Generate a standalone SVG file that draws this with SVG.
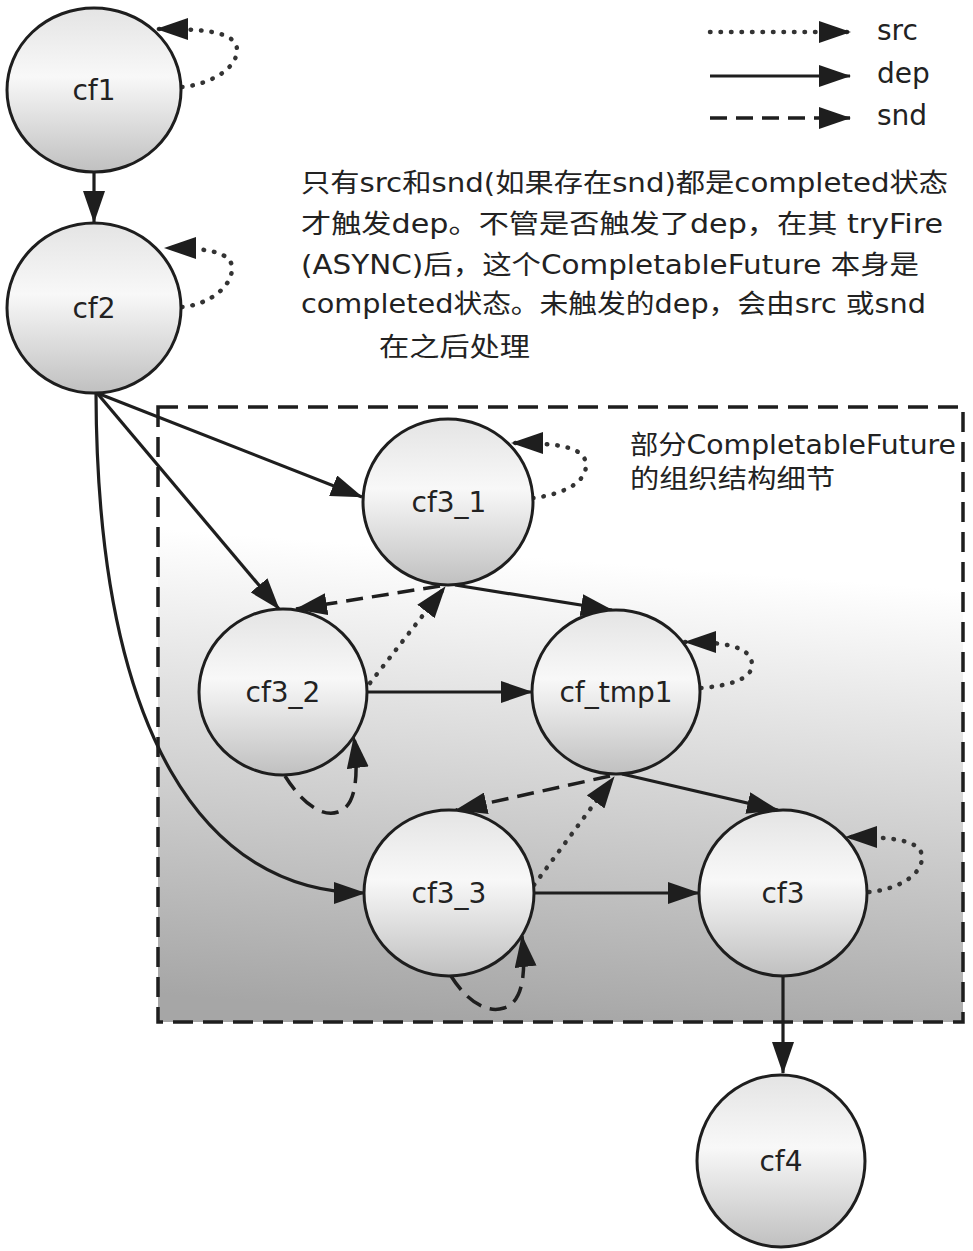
<svg xmlns="http://www.w3.org/2000/svg" width="973" height="1251" viewBox="0 0 973 1251">
  <defs>
    <linearGradient id="nodeFill" x1="0" y1="0" x2="0" y2="1">
      <stop offset="0" stop-color="#e4e4e4"/>
      <stop offset="0.42" stop-color="#f8f8f8"/>
      <stop offset="1" stop-color="#c0c0c0"/>
    </linearGradient>
    <linearGradient id="boxFill" x1="0.55" y1="0" x2="0.45" y2="1">
      <stop offset="0" stop-color="#ffffff"/>
      <stop offset="0.25" stop-color="#ffffff"/>
      <stop offset="1" stop-color="#a6a6a6"/>
    </linearGradient>
    <marker id="arrow" viewBox="0 0 32 22" markerWidth="32" markerHeight="22" refX="31" refY="11" orient="auto" markerUnits="userSpaceOnUse">
      <path d="M0,0 L32,11 L0,22 z" fill="#1e1e1e"/>
    </marker>
    <style>
      .node { fill: url(#nodeFill); stroke: #1e1e1e; stroke-width: 3; }
      .label { font-family: "DejaVu Sans", "Noto Sans CJK SC", sans-serif; font-size: 28px; fill: #222; text-anchor: middle; }
      .note { font-family: "DejaVu Sans", "Noto Sans CJK SC", sans-serif; font-size: 26px; fill: #222; }
      .dep { fill: none; stroke: #1e1e1e; stroke-width: 3.2; marker-end: url(#arrow); }
      .src { fill: none; stroke: #333; stroke-width: 4.5; stroke-dasharray: 0.5 10; stroke-linecap: round; marker-end: url(#arrow); }
      .snd { fill: none; stroke: #1e1e1e; stroke-width: 3.5; stroke-dasharray: 17 9; marker-end: url(#arrow); }
    </style>
  </defs>

  <rect width="973" height="1251" fill="#ffffff"/>

  <!-- detail region -->
  <g id="detail-box">
    <rect x="158" y="407" width="805" height="615" fill="url(#boxFill)" stroke="#1e1e1e" stroke-width="3.5" stroke-dasharray="20 10"/>
    <text class="note" x="630" y="454" textLength="326" lengthAdjust="spacingAndGlyphs">部分CompletableFuture</text>
    <text class="note" x="630" y="488" textLength="205" lengthAdjust="spacingAndGlyphs">的组织结构细节</text>
  </g>

  <!-- legend -->
  <g id="legend">
    <path class="src" d="M710,32 L850,32"/>
    <path class="dep" d="M710,76 L850,76"/>
    <path class="snd" d="M710,118 L850,118"/>
    <text class="label" x="877" y="40" style="text-anchor:start">src</text>
    <text class="label" x="877" y="83" style="text-anchor:start">dep</text>
    <text class="label" x="877" y="125" style="text-anchor:start">snd</text>
  </g>

  <!-- explanation -->
  <g id="explanation">
    <text class="note" x="301" y="192" textLength="647" lengthAdjust="spacingAndGlyphs">只有src和snd(如果存在snd)都是completed状态</text>
    <text class="note" x="301" y="233" textLength="642" lengthAdjust="spacingAndGlyphs">才触发dep。不管是否触发了dep，在其 tryFire</text>
    <text class="note" x="301" y="274" textLength="618" lengthAdjust="spacingAndGlyphs">(ASYNC)后，这个CompletableFuture 本身是</text>
    <text class="note" x="301" y="313" textLength="625" lengthAdjust="spacingAndGlyphs">completed状态。未触发的dep，会由src 或snd</text>
    <text class="note" x="379" y="356" textLength="151" lengthAdjust="spacingAndGlyphs">在之后处理</text>
  </g>

  <!-- connectors -->
  <g id="connectors">
    <path class="dep" d="M94,172 L94,222"/>
    <path class="dep" d="M97,393 L362,497"/>
    <path class="dep" d="M97,393 L279,609"/>
    <path class="dep" d="M96,393 C97,735 205,893 365,893"/>
    <path class="dep" d="M455,585 L612,610"/>
    <path class="snd" d="M440,586 L296,609"/>
    <path class="src" d="M370,683 L445,587"/>
    <path class="dep" d="M367,692 L532,692"/>
    <path class="dep" d="M622,774 L778,810"/>
    <path class="snd" d="M610,776 L456,810"/>
    <path class="src" d="M534,885 L614,777"/>
    <path class="dep" d="M534,893 L699,893"/>
    <path class="dep" d="M783,977 L783,1073"/>
    <!-- self loops: src (dotted) -->
    <path class="src" d="M182,87 C207,85 237,70 237,50 C237,30 197,29 157,29"/>
    <path class="src" d="M182,307 C207,305 232,288 232,268 C232,250 200,248 165,248"/>
    <path class="src" d="M533,498 C558,495 586,485 586,465 C586,445 550,443 512,443"/>
    <path class="src" d="M701,688 C726,686 752,680 752,665 C752,645 720,642 685,642"/>
    <path class="src" d="M869,892 C894,890 922,877 922,857 C922,838 884,837 846,837"/>
    <!-- self loops: snd (dashed) -->
    <path class="snd" d="M285,776 C300,800 320,818 338,812 C358,806 358,770 354,737"/>
    <path class="snd" d="M451,976 C466,1000 486,1014 504,1008 C524,1002 526,970 522,936"/>
  </g>

  <!-- nodes -->
  <g id="cf1"><ellipse class="node" cx="94" cy="90" rx="87" ry="82"/><text class="label" x="94" y="100">cf1</text></g>
  <g id="cf2"><ellipse class="node" cx="94" cy="308" rx="87" ry="85"/><text class="label" x="94" y="318">cf2</text></g>
  <g id="cf3_1"><ellipse class="node" cx="448" cy="502" rx="85" ry="83"/><text class="label" x="449" y="512">cf3_1</text></g>
  <g id="cf3_2"><ellipse class="node" cx="283" cy="692" rx="84" ry="83"/><text class="label" x="283" y="702">cf3_2</text></g>
  <g id="cf_tmp1"><ellipse class="node" cx="616" cy="692" rx="84" ry="82"/><text class="label" x="616" y="702">cf_tmp1</text></g>
  <g id="cf3_3"><ellipse class="node" cx="449" cy="893" rx="85" ry="83"/><text class="label" x="449" y="903">cf3_3</text></g>
  <g id="cf3"><ellipse class="node" cx="783" cy="893" rx="84" ry="83"/><text class="label" x="783" y="903">cf3</text></g>
  <g id="cf4"><ellipse class="node" cx="781" cy="1161" rx="84" ry="86"/><text class="label" x="781" y="1171">cf4</text></g>
</svg>
